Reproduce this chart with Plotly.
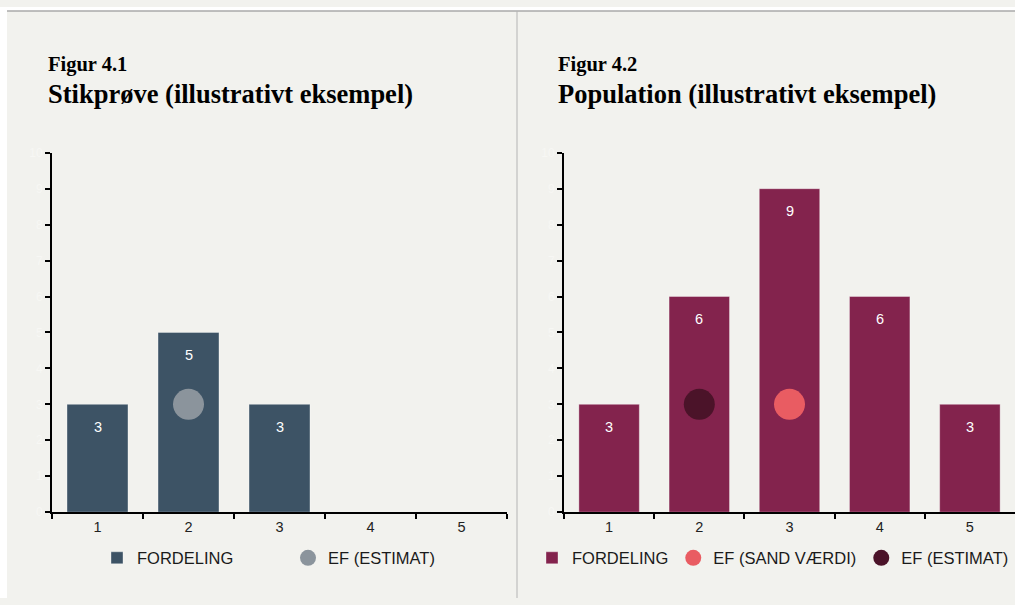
import plotly.graph_objects as go

W, H = 1015, 605
# calibration of the capture (observed_y = SY * y + OY)
SY, OY = 0.9785, 6.0

categories = ["1", "2", "3", "4", "5"]
sample_counts = [3, 5, 3, 0, 0]
population_counts = [3, 6, 9, 6, 3]
sample_ef_estimate_x = ["2"]
sample_ef_estimate_y = [3]
pop_ef_true_x = ["3"]
pop_ef_true_y = [3]
pop_ef_estimate_x = ["2"]
pop_ef_estimate_y = [3]
y_ticks = list(range(0, 11))

BG = "#f2f2ee"
C_LEFT_BAR = "#3d5365"
C_LEFT_DOT = "#8b949c"
C_RIGHT_BAR = "#83234d"
C_TRUE = "#e95c62"
C_EST = "#4b1329"
SANS = "Liberation Sans, Arial, sans-serif"
SERIF = "Liberation Serif, Times New Roman, serif"


def px_x(p):
    return p / W


def px_y(p):
    """paper y for a target pixel row (from top) of the captured picture"""
    y = (p - OY) / SY
    return (H - y) / H


fig = go.Figure()

# left panel
fig.add_trace(go.Bar(x=categories, y=sample_counts, name="FORDELING",
                     marker=dict(color=C_LEFT_BAR, line=dict(color="rgba(255,255,255,0.35)", width=1)),
                     width=0.67, xaxis="x", yaxis="y", legend="legend", hoverinfo="skip"))
fig.add_trace(go.Scatter(x=sample_ef_estimate_x, y=sample_ef_estimate_y, name="EF (ESTIMAT)",
                         mode="markers", marker=dict(color=C_LEFT_DOT, size=31),
                         xaxis="x", yaxis="y", legend="legend"))

# right panel
fig.add_trace(go.Bar(x=categories, y=population_counts, name="FORDELING",
                     marker=dict(color=C_RIGHT_BAR, line=dict(color="rgba(255,255,255,0.35)", width=1)),
                     width=0.67, xaxis="x2", yaxis="y2", legend="legend2", hoverinfo="skip"))
fig.add_trace(go.Scatter(x=pop_ef_true_x, y=pop_ef_true_y, name="EF (SAND VÆRDI)",
                         mode="markers", marker=dict(color=C_TRUE, size=31),
                         xaxis="x2", yaxis="y2", legend="legend2"))
fig.add_trace(go.Scatter(x=pop_ef_estimate_x, y=pop_ef_estimate_y, name="EF (ESTIMAT)",
                         mode="markers", marker=dict(color=C_EST, size=31),
                         xaxis="x2", yaxis="y2", legend="legend2"))

annotations = []
for vals, xr, yr in [(sample_counts, "x", "y"), (population_counts, "x2", "y2")]:
    for i, v in enumerate(vals):
        if v > 0:
            # x given as category index on the category axis
            annotations.append(dict(x=i, y=v, xref=xr, yref=yr, text=str(v), showarrow=False,
                                    yshift=-22.5, font=dict(family=SANS, size=14.5, color="white")))

titles = [(48, "Figur 4.1", "Stikprøve (illustrativt eksempel)"),
          (558, "Figur 4.2", "Population (illustrativt eksempel)")]
for x0, fig_no, title in titles:
    # "Figur" line: baseline ~72 px, title line: baseline ~100 px
    annotations.append(dict(x=px_x(x0 - 1), y=px_y(76), xref="paper", yref="paper", xanchor="left",
                            yanchor="bottom", text="<b>%s</b>" % fig_no, showarrow=False,
                            font=dict(family=SERIF, size=20.5, color="black"), borderpad=0))
    annotations.append(dict(x=px_x(x0 - 1), y=px_y(77), xref="paper", yref="paper", xanchor="left",
                            yanchor="top", text="<b>%s</b>" % title, showarrow=False,
                            font=dict(family=SERIF, size=26.5, color="black"), borderpad=0))

axis_common = dict(showline=True, linecolor="black", linewidth=2, ticks="outside",
                   ticklen=5, tickwidth=2, tickcolor="black", showgrid=False, zeroline=False)
xaxis_common = dict(axis_common, type="category", tickson="boundaries",
                    tickfont=dict(family=SANS, size=14.5, color="#222222"),
                    categoryorder="array", categoryarray=categories)
yaxis_common = dict(axis_common, range=[0, 10], tickvals=y_ticks,
                    tickfont=dict(family=SANS, size=12, color="#f7f7f4"))

shapes = [
    dict(type="rect", xref="paper", yref="paper", x0=0, x1=1, y0=px_y(10), y1=1,
         fillcolor="white", line=dict(width=0), layer="below"),
    dict(type="rect", xref="paper", yref="paper", x0=0, x1=px_x(7), y0=0, y1=1,
         fillcolor="white", line=dict(width=0), layer="below"),
    dict(type="line", xref="paper", yref="paper", x0=px_x(7), x1=1, y0=px_y(10), y1=px_y(10),
         line=dict(color="#aaaaaa", width=1.5)),
    dict(type="line", xref="paper", yref="paper", x0=px_x(517), x1=px_x(517), y0=0, y1=px_y(10),
         line=dict(color="#b4b4b4", width=1)),
]

legend_font = dict(family=SANS, size=16.5, color="#1a1a1a")
fig.update_layout(
    width=W, height=H, margin=dict(l=0, r=0, t=0, b=0),
    paper_bgcolor=BG, plot_bgcolor="rgba(0,0,0,0)",
    bargap=0.33,
    xaxis=dict(xaxis_common, domain=[px_x(52), px_x(507)], anchor="y"),
    yaxis=dict(yaxis_common, domain=[px_y(512), px_y(152)], anchor="x"),
    xaxis2=dict(xaxis_common, domain=[px_x(564), 1.0], anchor="y2"),
    yaxis2=dict(yaxis_common, domain=[px_y(512), px_y(152)], anchor="x2"),
    legend=dict(orientation="h", x=px_x(288), xanchor="center", y=px_y(558), yanchor="middle",
                font=legend_font, bgcolor="rgba(0,0,0,0)",
                entrywidth=146, entrywidthmode="pixels", itemclick=False),
    legend2=dict(orientation="h", x=px_x(532), xanchor="left", y=px_y(558), yanchor="middle",
                 font=legend_font, bgcolor="rgba(0,0,0,0)", itemclick=False),
    annotations=annotations,
    shapes=shapes,
    showlegend=True,
)

post = ("document.documentElement.style.background='%s';document.body.style.background='%s';"
        "document.body.style.margin='0';document.body.style.overflow='hidden';") % (BG, BG)
fig.write_html("out.html", config={"displayModeBar": False}, post_script=post)
